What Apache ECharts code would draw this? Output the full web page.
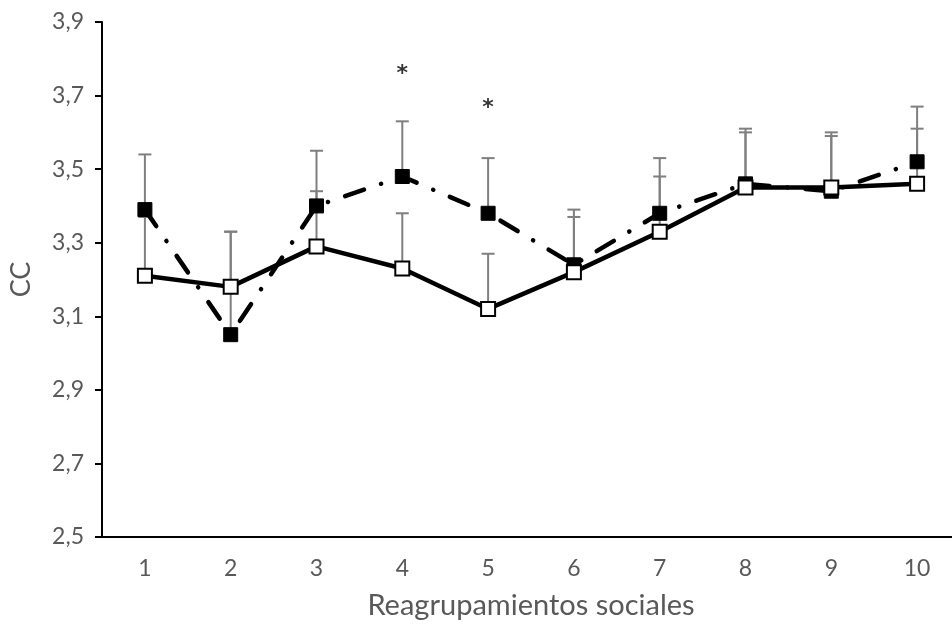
<!DOCTYPE html>
<html>
<head>
<meta charset="utf-8">
<script src="https://cdn.jsdelivr.net/npm/echarts@6/dist/echarts.min.js"></script>
<style>html,body{margin:0;padding:0;background:#fff;overflow:hidden;width:952px;height:628px}#c{width:962px;height:628px}</style>
</head>
<body>
<div id="c"></div>
<script>
var categories = ['1','2','3','4','5','6','7','8','9','10'];
var filledMean  = [3.39, 3.05, 3.40, 3.48, 3.38, 3.24, 3.38, 3.46, 3.44, 3.52];
var filledUpper = [3.54, 3.33, 3.55, 3.63, 3.53, 3.39, 3.53, 3.61, 3.60, 3.67];
var openMean    = [3.21, 3.18, 3.29, 3.23, 3.12, 3.22, 3.33, 3.45, 3.45, 3.46];
var openUpper   = [3.37, 3.33, 3.44, 3.38, 3.27, 3.37, 3.48, 3.60, 3.59, 3.61];
var sigCats = ['4', '5'];
var sigY = [3.77, 3.675];

var FONT = 'Lato, "Open Sans", sans-serif';

function errData(mean, upper) {
  return categories.map(function (c, i) { return [i, mean[i], upper[i]]; });
}
function errRender(params, api) {
  var x = api.value(0);
  var lo = api.coord([x, api.value(1)]);
  var hi = api.coord([x, api.value(2)]);
  var hw = 6.5;
  var st = { stroke: '#7f7f7f', lineWidth: 2 };
  return {
    type: 'group',
    children: [
      { type: 'line', shape: { x1: lo[0], y1: lo[1], x2: hi[0], y2: hi[1] }, style: st },
      { type: 'line', shape: { x1: hi[0] - hw, y1: hi[1], x2: hi[0] + hw, y2: hi[1] }, style: st }
    ]
  };
}

var chart = echarts.init(document.getElementById('c'));
chart.setOption({
  animation: false,
  grid: { left: 102, top: 22, width: 858, height: 515 },
  xAxis: {
    type: 'category',
    data: categories,
    boundaryGap: true,
    name: 'Reagrupamientos sociales',
    nameLocation: 'middle',
    nameGap: 54,
    nameTextStyle: { color: '#595959', fontSize: 29, fontFamily: FONT },
    axisLine: { lineStyle: { color: '#000', width: 2 } },
    axisTick: { alignWithLabel: true, length: 6, lineStyle: { color: '#000', width: 2 } },
    axisLabel: { color: '#595959', fontSize: 23, fontFamily: FONT, margin: 20 },
    splitLine: { show: false }
  },
  yAxis: {
    type: 'value',
    min: 2.5, max: 3.9, interval: 0.2,
    name: 'CC',
    nameLocation: 'middle',
    nameGap: 67,
    nameRotate: 90,
    nameTextStyle: { color: '#595959', fontSize: 27, fontFamily: FONT },
    axisLine: { show: true, lineStyle: { color: '#000', width: 2 } },
    axisTick: { show: true, length: 7, lineStyle: { color: '#000', width: 2 } },
    axisLabel: {
      color: '#595959', fontSize: 23, fontFamily: FONT, margin: 18,
      formatter: function (v) { return v.toFixed(1).replace('.', ','); }
    },
    splitLine: { show: false }
  },
  series: [
    { type: 'custom', renderItem: errRender, data: errData(filledMean, filledUpper), z: 1, silent: true },
    { type: 'custom', renderItem: errRender, data: errData(openMean, openUpper), z: 1, silent: true },
    {
      type: 'line', data: filledMean, z: 3,
      symbol: 'rect', symbolSize: 14, showAllSymbol: true,
      lineStyle: { color: '#000', width: 4.5, type: [20, 18, 0.1, 18], cap: 'round' },
      itemStyle: { color: '#000', borderColor: '#000', borderWidth: 1 }
    },
    {
      type: 'line', data: openMean, z: 4,
      symbol: 'rect', symbolSize: 14, showAllSymbol: true,
      lineStyle: { color: '#000', width: 4.5 },
      itemStyle: { color: '#fff', borderColor: '#000', borderWidth: 2 }
    },
    {
      type: 'scatter', z: 5, symbolSize: 0,
      data: sigCats.map(function (c, i) { return [c, sigY[i]]; }),
      label: { show: true, formatter: '*', position: 'inside', color: '#000', fontSize: 22, fontWeight: 'bold', fontFamily: '"DejaVu Sans", sans-serif', offset: [0, 4] }
    }
  ]
});
</script>
</body>
</html>
